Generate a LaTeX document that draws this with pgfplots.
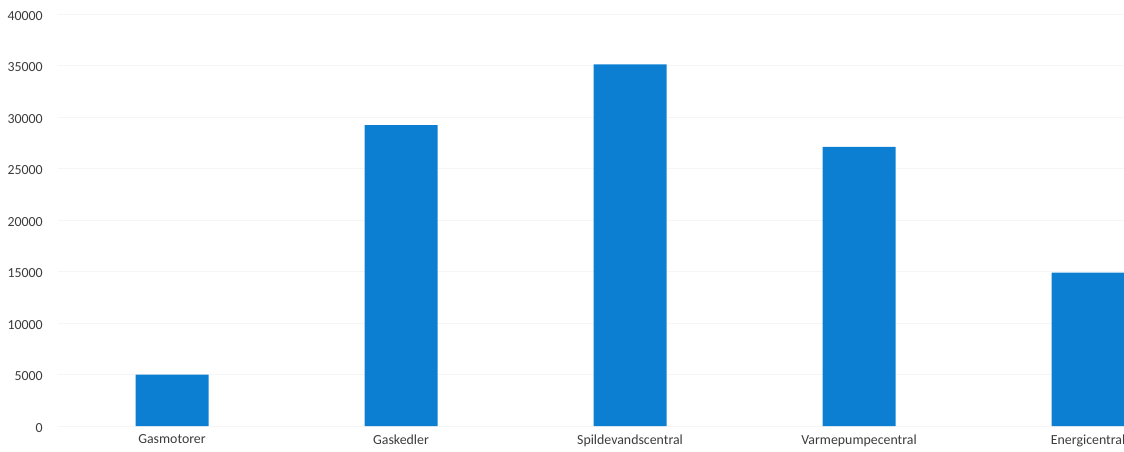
\documentclass[border=0pt]{standalone}
\usepackage{fontspec}
\setmainfont{Carlito}
\usepackage{pgfplots}
\pgfplotsset{compat=1.18}
\definecolor{barblue}{RGB}{12,127,210}
\definecolor{txt}{RGB}{60,60,60}
\begin{document}
\begin{tikzpicture}
\useasboundingbox (-43.125pt,-18.75pt) rectangle (799.875pt,319.5pt);
\begin{axis}[
  scale only axis,
  width=799.875pt, height=309pt,
  xmin=-0.5, xmax=4.157,
  ymin=0, ymax=40000,
  ytick={0,5000,...,40000},
  xtick={0,1,2,3,4},
  xticklabels={Gasmotorer,Gaskedler,Spildevandscentral,Varmepumpecentral,Energicentral},
  axis line style={draw=none},
  major tick length=0pt,
  ymajorgrids,
  grid style={color=black!4, line width=0.6pt},
  scaled y ticks=false,
  /pgf/number format/assume math mode=true,
  /pgf/number format/set thousands separator={},
  tick label style={font=\fontsize{10.4}{12}\selectfont, text=txt},
  y tick label style={xshift=-7.6pt, yshift=-1.5pt},
  x tick label style={yshift=-3pt},
  ybar, bar width=54.75pt,
]
\addplot[fill=barblue, draw=none] coordinates {
  (0,5000) (1,29200) (2,35100) (3,27100) (4,14900)
};
\end{axis}
\end{tikzpicture}
\end{document}
